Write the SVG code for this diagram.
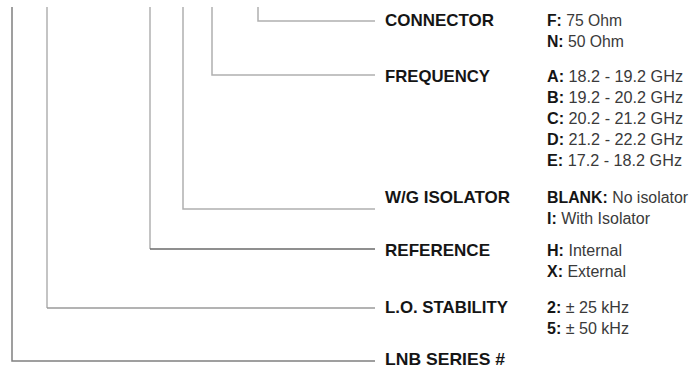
<svg xmlns="http://www.w3.org/2000/svg" width="697" height="372" viewBox="0 0 697 372">
<style>
.c{fill:none;stroke:#b0b0b0;stroke-width:1.5}
.d{stroke:#808080}
.e{stroke:#6a6a6a}
.m{stroke:#9a9a9a}
text{font-family:"Liberation Sans",Arial,sans-serif;font-size:16px}
.lab{font-weight:bold;fill:#151515;font-size:16.6px}
.val{fill:#3a3a3a}
.val tspan.k{font-weight:bold;fill:#151515}
</style>
<rect width="697" height="372" fill="#ffffff"/>
<g id="connectors">
<path class="c" d="M258 7V21H375"/>
<path class="c" d="M212 7V75H375"/>
<path class="c" d="M183 7V209H375"/>
<path class="c" d="M150 7V249"/>
<path class="c e" d="M150 249H375"/>
<path class="c" d="M47 7V308"/>
<path class="c m" d="M47 308H375"/>
<path class="c d" d="M12 7V361H375"/>
</g>
<g id="connector">
<text class="lab" x="385" y="26" textLength="109" lengthAdjust="spacingAndGlyphs">CONNECTOR</text>
<text class="val" x="547" y="26" textLength="75" lengthAdjust="spacingAndGlyphs"><tspan class="k">F:</tspan> 75 Ohm</text>
<text class="val" x="547" y="47" textLength="77" lengthAdjust="spacingAndGlyphs"><tspan class="k">N:</tspan> 50 Ohm</text>
</g>
<g id="frequency">
<text class="lab" x="385" y="82" textLength="105" lengthAdjust="spacingAndGlyphs">FREQUENCY</text>
<text class="val" x="547" y="82" textLength="136" lengthAdjust="spacingAndGlyphs"><tspan class="k">A:</tspan> 18.2 - 19.2 GHz</text>
<text class="val" x="547" y="103" textLength="136" lengthAdjust="spacingAndGlyphs"><tspan class="k">B:</tspan> 19.2 - 20.2 GHz</text>
<text class="val" x="547" y="124" textLength="136" lengthAdjust="spacingAndGlyphs"><tspan class="k">C:</tspan> 20.2 - 21.2 GHz</text>
<text class="val" x="547" y="145" textLength="136" lengthAdjust="spacingAndGlyphs"><tspan class="k">D:</tspan> 21.2 - 22.2 GHz</text>
<text class="val" x="547" y="166" textLength="135" lengthAdjust="spacingAndGlyphs"><tspan class="k">E:</tspan> 17.2 - 18.2 GHz</text>
</g>
<g id="isolator">
<text class="lab" x="385" y="203" textLength="125" lengthAdjust="spacingAndGlyphs">W/G ISOLATOR</text>
<text class="val" x="547" y="203" textLength="141" lengthAdjust="spacingAndGlyphs"><tspan class="k">BLANK:</tspan> No isolator</text>
<text class="val" x="547" y="224" textLength="103" lengthAdjust="spacingAndGlyphs"><tspan class="k">I:</tspan> With Isolator</text>
</g>
<g id="reference">
<text class="lab" x="385" y="256" textLength="105" lengthAdjust="spacingAndGlyphs">REFERENCE</text>
<text class="val" x="547" y="256" textLength="75" lengthAdjust="spacingAndGlyphs"><tspan class="k">H:</tspan> Internal</text>
<text class="val" x="547" y="277" textLength="79" lengthAdjust="spacingAndGlyphs"><tspan class="k">X:</tspan> External</text>
</g>
<g id="stability">
<text class="lab" x="385" y="313" textLength="123" lengthAdjust="spacingAndGlyphs">L.O. STABILITY</text>
<text class="val" x="547" y="313" textLength="82" lengthAdjust="spacingAndGlyphs"><tspan class="k">2:</tspan> ± 25 kHz</text>
<text class="val" x="547" y="334" textLength="82" lengthAdjust="spacingAndGlyphs"><tspan class="k">5:</tspan> ± 50 kHz</text>
</g>
<g id="series">
<text class="lab" x="385" y="365" textLength="120" lengthAdjust="spacingAndGlyphs">LNB SERIES #</text>
</g>
</svg>
